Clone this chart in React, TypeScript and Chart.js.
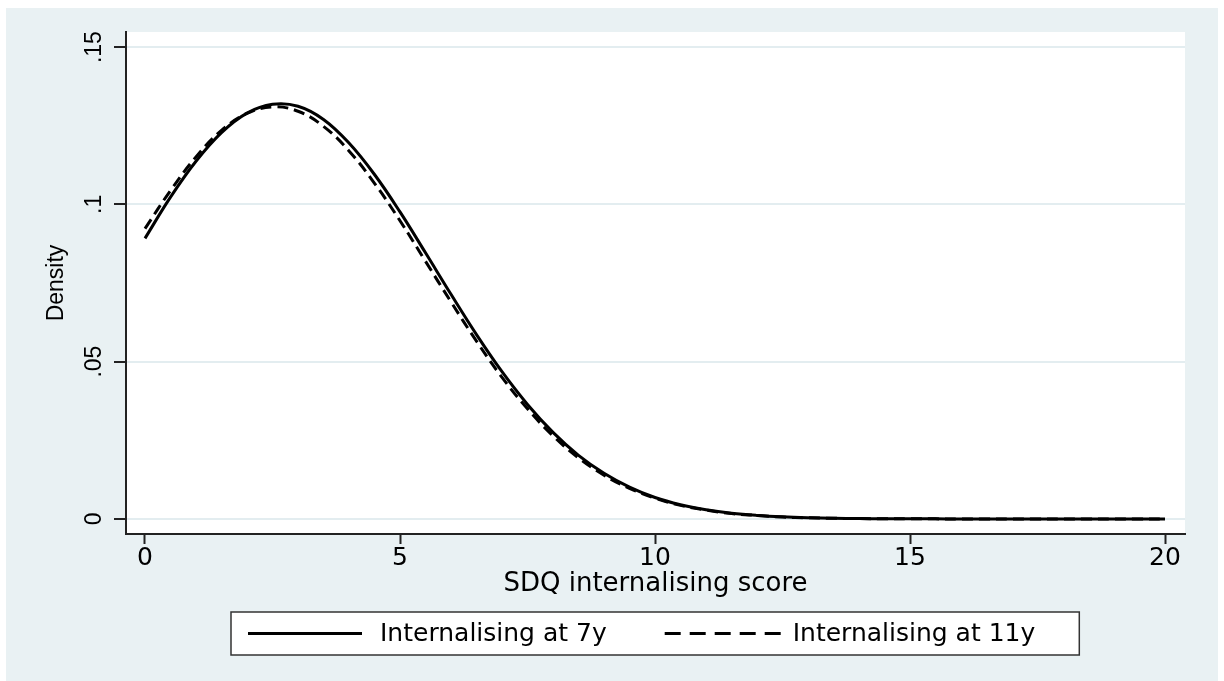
import { useEffect, useRef } from 'react';
import { Chart, registerables } from 'chart.js';

Chart.register(...registerables);

// ---- Data ----
const X_VALUES = [
  0, 0.5, 1, 1.5, 2, 2.5, 3, 3.5, 4, 4.5, 5, 5.5, 6, 6.5, 7, 7.5, 8, 8.5, 9, 9.5,
  10, 10.5, 11, 11.5, 12, 12.5, 13, 13.5, 14, 14.5, 15, 15.5, 16, 16.5, 17, 17.5,
  18, 18.5, 19, 19.5, 20,
];
const DENSITY_7Y = [
  0.0892, 0.1023, 0.1137, 0.1228, 0.1290, 0.1318, 0.1312, 0.1270, 0.1195, 0.1095,
  0.0976, 0.0846, 0.0714, 0.0586, 0.0468, 0.0364, 0.0275, 0.0202, 0.0145, 0.0101,
  0.0068, 0.0045, 0.0029, 0.0018, 0.0011, 0.00065, 0.00037, 0.0002, 0.0001, 0.00005,
  0.00002, 0.00001, 0, 0, 0, 0, 0, 0, 0, 0, 0,
];
const DENSITY_11Y = [
  0.0923, 0.1044, 0.1151, 0.1235, 0.1289, 0.1310, 0.1296, 0.1248, 0.1170, 0.1067,
  0.0948, 0.0819, 0.0690, 0.0565, 0.0450, 0.0350, 0.0264, 0.0194, 0.0139, 0.0097,
  0.0066, 0.0043, 0.0028, 0.0017, 0.0011, 0.0006, 0.00036, 0.0002, 0.0001, 0.00005,
  0.00002, 0.00001, 0, 0, 0, 0, 0, 0, 0, 0, 0,
];
const SERIES_LABELS = ['Internalising at 7y', 'Internalising at 11y'];
const X_TICKS = [0, 5, 10, 15, 20];
const X_TICK_LABELS = ['0', '5', '10', '15', '20'];
const Y_TICKS = [0, 0.05, 0.1, 0.15];
const Y_TICK_LABELS = ['0', '.05', '.1', '.15'];
const X_TITLE = 'SDQ internalising score';
const Y_TITLE = 'Density';

const BG = '#E9F1F3';
const GRID = '#E3EDF0';
const AXIS = '#222222';
const H_FONT = '"DejaVu Sans", "Liberation Sans", sans-serif';
const V_FONT = '"Liberation Sans", Arial, sans-serif';

const backgroundPlugin = {
  id: 'stataBackground',
  beforeDraw(chart: any) {
    const { ctx, chartArea } = chart;
    ctx.save();
    ctx.fillStyle = BG;
    ctx.fillRect(0, 0, chart.width, chart.height);
    ctx.fillStyle = '#ffffff';
    ctx.fillRect(chartArea.left, chartArea.top, chartArea.right - chartArea.left, chartArea.bottom - chartArea.top);
    ctx.restore();
  },
};

const boxedLegendPlugin = {
  id: 'boxedLegend',
  afterDraw(chart: any) {
    const { ctx, chartArea } = chart;
    const xs = chart.scales.x;
    const datasets = chart.data.datasets;
    ctx.save();
    ctx.font = '25px ' + H_FONT;
    const padL = 17;
    const padR = 44;
    const lineLen = [114, 118];
    const lineGap = [18, 10];
    const itemGap = 58;
    const widths = datasets.map((d: any) => ctx.measureText(d.label).width);
    let contentW = 0;
    datasets.forEach((_: any, i: number) => {
      contentW += lineLen[i] + lineGap[i] + widths[i];
      if (i < datasets.length - 1) contentW += itemGap;
    });
    const boxW = padL + contentW + padR;
    const boxH = 43;
    const cx = (chartArea.left + chartArea.right) / 2;
    const boxL = Math.round(cx - boxW / 2);
    const boxT = Math.round(xs.bottom + 12);
    ctx.fillStyle = '#ffffff';
    ctx.fillRect(boxL, boxT, boxW, boxH);
    ctx.strokeStyle = '#333333';
    ctx.lineWidth = 1.5;
    ctx.strokeRect(boxL, boxT, boxW, boxH);
    const cy = boxT + boxH / 2;
    let x = boxL + padL;
    datasets.forEach((d: any, i: number) => {
      ctx.beginPath();
      ctx.strokeStyle = d.borderColor;
      ctx.lineWidth = 3;
      ctx.setLineDash(d.borderDash && d.borderDash.length ? [16, 9] : []);
      ctx.moveTo(x, cy);
      ctx.lineTo(x + lineLen[i], cy);
      ctx.stroke();
      ctx.setLineDash([]);
      x += lineLen[i] + lineGap[i];
      ctx.fillStyle = '#000000';
      ctx.textBaseline = 'middle';
      ctx.textAlign = 'left';
      ctx.fillText(d.label, x, cy + 1);
      x += widths[i] + itemGap;
    });
    ctx.restore();
  },
};

export default function App() {
  const canvasRef = useRef<HTMLCanvasElement | null>(null);

  useEffect(() => {
    if (!canvasRef.current) return;
    const chart = new Chart(canvasRef.current, {
      type: 'line',
      data: {
        datasets: [
          {
            label: SERIES_LABELS[0],
            data: X_VALUES.map((x, i) => ({ x, y: DENSITY_7Y[i] })),
            borderColor: '#000000',
            borderWidth: 3,
            pointRadius: 0,
            fill: false,
            tension: 0.4,
          },
          {
            label: SERIES_LABELS[1],
            data: X_VALUES.map((x, i) => ({ x, y: DENSITY_11Y[i] })),
            borderColor: '#000000',
            borderWidth: 3,
            borderDash: [11, 6],
            pointRadius: 0,
            fill: false,
            tension: 0.4,
          },
        ],
      },
      options: {
        responsive: false,
        animation: false,
        devicePixelRatio: 1,
        layout: { padding: { top: 24, right: 33, bottom: 81, left: 0 } },
        plugins: {
          legend: { display: false },
          tooltip: { enabled: false },
        },
        scales: {
          x: {
            type: 'linear',
            min: -0.3725,
            max: 20.392,
            afterBuildTicks: (scale: any) => {
              scale.ticks = X_TICKS.map((v) => ({ value: v }));
            },
            afterFit: (scale: any) => {
              scale.height = 66;
            },
            ticks: {
              autoSkip: false,
              maxRotation: 0,
              minRotation: 0,
              padding: 2,
              color: '#000000',
              font: { family: H_FONT, size: 25, lineHeight: 1 },
              callback: (_v: any, i: number) => X_TICK_LABELS[i],
            },
            grid: {
              drawOnChartArea: false,
              drawTicks: true,
              tickLength: 10,
              tickColor: AXIS,
              tickWidth: 2,
            },
            border: { display: true, color: AXIS, width: 2 },
            title: {
              display: true,
              text: X_TITLE,
              color: '#000000',
              font: { family: H_FONT, size: 26, lineHeight: 1.2 },
              padding: { top: 0, bottom: 0 },
            },
          },
          y: {
            type: 'linear',
            min: -0.0048,
            max: 0.1548,
            afterBuildTicks: (scale: any) => {
              scale.ticks = Y_TICKS.map((v) => ({ value: v }));
            },
            afterFit: (scale: any) => {
              scale.width = 120;
            },
            ticks: {
              autoSkip: false,
              minRotation: 90,
              maxRotation: 90,
              crossAlign: 'center',
              padding: 3,
              color: '#000000',
              font: { family: V_FONT, size: 23, lineHeight: 1.2 },
              callback: (_v: any, i: number) => Y_TICK_LABELS[i],
            },
            grid: {
              drawOnChartArea: true,
              color: GRID,
              lineWidth: 2,
              drawTicks: true,
              tickLength: 12,
              tickColor: AXIS,
              tickWidth: 2,
            },
            border: { display: true, color: AXIS, width: 2 },
            title: {
              display: true,
              text: Y_TITLE,
              color: '#000000',
              font: { family: V_FONT, size: 23, lineHeight: 1.2 },
              padding: { top: 37, bottom: 0 },
            },
          },
        },
      } as any,
      plugins: [backgroundPlugin, boxedLegendPlugin],
    });
    return () => chart.destroy();
  }, []);

  return (
    <div style={{ position: 'absolute', left: 6, top: 8, width: 1212, height: 673 }}>
      <canvas ref={canvasRef} width={1212} height={673} style={{ display: 'block', width: 1212, height: 673 }} />
    </div>
  );
}
